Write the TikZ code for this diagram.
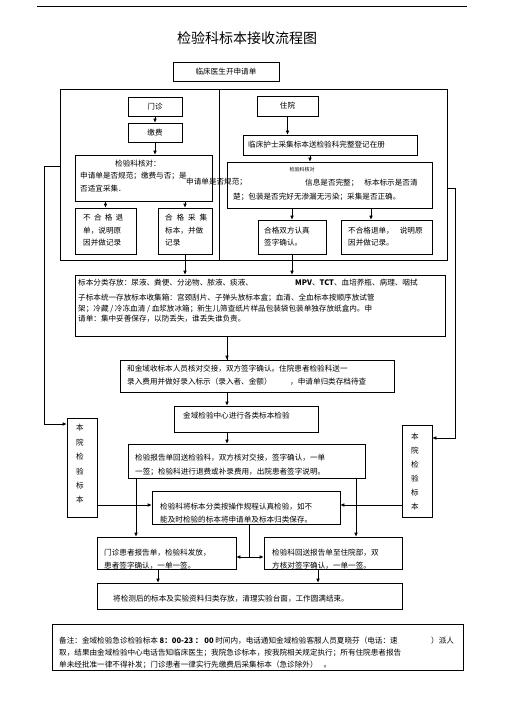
\documentclass[tikz,border=0pt]{standalone}
\usepackage{fontspec}
\setmainfont{Noto Sans CJK SC}
\usetikzlibrary{arrows.meta,fit}
\begin{document}
\begin{tikzpicture}[x=1pt,y=-1pt,
 box/.style={draw, line width=0.6pt, inner sep=0pt},
 txt/.style={anchor=west, inner sep=0pt, font=\fontsize{7.6}{9}\selectfont},
 ctr/.style={inner sep=0pt, font=\fontsize{7.6}{9}\selectfont},
 arr/.style={line width=0.6pt, -{Latex[length=4pt,width=3.5pt]}},
 ln/.style={line width=0.6pt}]
\useasboundingbox[fill=white] (0,0) rectangle (505,714);
\draw[line width=0.9pt] (37,6) -- (467,6);
\node[inner sep=0pt, font=\fontsize{14}{16}\selectfont] (title) at (247,38) {检验科标本接收流程图};
% boxes
\node[box, fit={(173,62) (279,81)}] (doc) {};
\node[ctr] (doct) at (doc.center) {临床医生开申请单};
\node[box, fit={(60,89) (447,260)}] (outer) {};
\draw[ln] (219,89) -- (219,260);
\node[box, fit={(128,97) (182,116)}] (mz) {};
\node[ctr] (mzt) at (mz.center) {门诊};
\node[box, fit={(128,123) (182,142)}] (jf) {};
\node[ctr] (jft) at (jf.center) {缴费};
\node[box, fit={(75,155) (212,201)}] (hd1) {};
\node[ctr] (hd1a) at (138,164) {检验科核对：};
\node[txt] (hd1b) at (80,175.5) {申请单是否规范；缴费与否；是};
\node[txt] (hd1c) at (80,189) {否适宜采集．};
\node[txt] (hd1d) at (186,182) {申请单是否规范；};
\node[box, fit={(75,208) (136,254)}] (np1) {};
\node[txt] (np1a) at (83,218) {\makebox[40pt][s]{不\hfill 合\hfill 格\hfill 退}};
\node[txt] (np1b) at (83,231) {单，说明原};
\node[txt] (np1c) at (83,243) {因并做记录};
\node[box, fit={(158,208) (212,254)}] (p1) {};
\node[txt] (p1a) at (165,218) {\makebox[42pt][s]{合\hfill 格\hfill 采\hfill 集}};
\node[txt] (p1b) at (165,231) {标本，并做};
\node[txt] (p1c) at (165,243) {记录};
\node[box, fit={(257,96) (318,116)}] (zy) {};
\node[ctr] (zyt) at (zy.center) {住院};
\node[box, fit={(243,135) (417,155)}] (nurse) {};
\node[txt] (nurset) at (248,145) {临床护士采集标本送检验科完整登记在册};
\node[box, fit={(227,162) (432,208)}] (hd2) {};
\node[inner sep=0pt, font=\fontsize{5}{6}\selectfont] (hd2a) at (302,170) {检验科核对};
\node[txt] (hd2b) at (305,183) {信息是否完整；\hspace{6pt}标本标示是否清};
\node[txt] (hd2c) at (233,197) {楚；包装是否完好无渗漏无污染；采集是否正确。};
\node[box, fit={(258,220) (326,254)}] (p2) {};
\node[txt] (p2a) at (264,231) {合格双方认真};
\node[txt] (p2b) at (264,243) {签字确认。};
\node[box, fit={(341,220) (432,254)}] (np2) {};
\node[txt] (np2a) at (348,231) {不合格退单，\hspace{6pt}说明原};
\node[txt] (np2b) at (348,243) {因并做记录。};
\node[box, fit={(75,275) (445,336)}] (store) {};
\node[txt] (st1) at (78,283) {标本分类存放：尿液、粪便、分泌物、脓液、痰液、};
\node[txt] (st1b) at (295,283) {\textbf{MPV}、\textbf{TCT}、血培养瓶、病理、咽拭};
\node[txt] (st2) at (78,298) {子标本统一存放标本收集箱：宫颈刮片、子弹头放标本盒；血清、全血标本按顺序放试管};
\node[txt] (st3) at (78,309) {架；冷藏 / 冷冻血清 / 血浆放冰箱；新生儿筛查纸片样品包装袋包装单独存放纸盒内。申};
\node[txt] (st4) at (78,319) {请单：集中妥善保存，以防丢失，谁丢失谁负责。};
\node[box, fit={(120,360) (394,392)}] (hand) {};
\node[txt] (hand1) at (127,369) {和金域收标本人员核对交接，双方签字确认。住院患者检验科送一};
\node[txt] (hand2) at (127,382) {录入费用并做好录入标示（录入者、金额）};
\node[txt] (hand3) at (290,382) {，申请单归类存档待查};
\node[box, fit={(174,406) (318,432)}] (jy) {};
\node[txt] (jyt) at (183,416) {金域检验中心进行各类标本检验};
\node[box, fit={(128,444) (365,478)}] (rep) {};
\node[txt] (rep1) at (135,458) {检验报告单回送检验科，双方核对交接，签字确认，一单};
\node[txt] (rep2) at (135,472) {一签；检验科进行退费或补录费用，出院患者签字说明。};
\node[box, fit={(152,491) (340,524)}] (ana) {};
\node[txt] (ana1) at (160,507) {检验科将标本分类按操作规程认真检验，如不};
\node[txt] (ana2) at (160,519.5) {能及时检验的标本将申请单及标本归类保存。};
\node[box, fit={(67,418) (97,517)}] (bL) {};
\node[ctr, align=center, font=\fontsize{7.6}{14.4}\selectfont] (bLt) at (80,464) {本\\院\\检\\验\\标\\本};
\node[box, fit={(402,425) (432,517)}] (bR) {};
\node[ctr, align=center, font=\fontsize{7.6}{14}\selectfont] (bRt) at (415,472) {本\\院\\检\\验\\标\\本};
\node[box, fit={(97,537) (236,569)}] (opd) {};
\node[txt] (opd1) at (104,553) {门诊患者报告单，检验科发放，};
\node[txt] (opd2) at (104,566) {患者签字确认，一单一签。};
\node[box, fit={(264,537) (402,569)}] (ipd) {};
\node[txt] (ipd1) at (272,553) {检验科回送报告单至住院部，双};
\node[txt] (ipd2) at (272,566) {方核对签字确认，一单一签。};
\node[box, fit={(97,583) (402,609)}] (fin) {};
\node[txt] (fint) at (113,599) {将检测后的标本及实验资料归类存放，清理实验台面，工作圆满结束。};
\node[box, fit={(52,624) (463,670)}] (note) {};
\node[txt] (n1) at (59,641) {备注：金域检验急诊检验标本 \textbf{8：00-23 ： 00} 时间内，电话通知金域检验客服人员夏晓芬（电话：速};
\node[txt] (n1b) at (431,641) {）派人};
\node[txt] (n2) at (59,653) {取，结果由金域检验中心电话告知临床医生；我院急诊标本，按我院相关规定执行；所有住院患者报告};
\node[txt] (n3) at (59,665) {单未经批准一律不得补发；门诊患者一律实行先缴费后采集标本（急诊除外）\hspace{6pt}。};
% connectors
\draw[arr] (mz) -- (jf);
\draw[arr] (jf.south) -- (jf.south |- hd1.north);
\draw[arr] (np1.north |- hd1.south) -- (np1.north);
\draw[arr] (p1.north |- hd1.south) -- (p1.north);
\draw[arr] (p1.south) -- (p1.south |- store.north);
\draw[arr] (zy) -- (zy.south |- nurse.north);
\coordinate (cx1) at (310,0);
\draw[arr] (nurse.south -| cx1) -- (hd2.north -| cx1);
\draw[arr] (p2.north |- hd2.south) -- (p2.north);
\coordinate (cx2) at (371,0);
\draw[arr] (hd2.south -| cx2) -- (np2.north -| cx2);
\draw[arr] (p2.south) -- (p2.south |- store.north);
\coordinate (cx3) at (227,0);
\draw[ln] (store.south -| cx3) -- (hand.north -| cx3);
\draw[arr] (store.south -| cx3) -- (hand.north -| cx3);
\draw[arr] (hand.south -| cx3) -- (jy.north -| cx3);
\draw[arr] (jy.south -| cx3) -- (rep.north -| cx3);
\coordinate (l1) at (44,166);
\coordinate (l2) at (44,424);
\draw[arr] (outer.west |- l1) -- (l1) -- (l2) -- (bL.west |- l2);
\coordinate (r1) at (455,188);
\coordinate (r2) at (455,438);
\draw[arr] (outer.east |- r1) -- (r1) -- (r2) -- (bR.east |- r2);
\coordinate (m1) at (0,505);
\draw[arr] (bL.east |- m1) -- (ana.west |- m1);
\draw[arr] (bR.west |- m1) -- (ana.east |- m1);
\coordinate (cx4) at (136,0);
\draw[arr] (rep.south -| cx4) -- (opd.north -| cx4);
\coordinate (cx5) at (356,0);
\draw[arr] (rep.south -| cx5) -- (ipd.north -| cx5);
\coordinate (jn) at (249,557);
\draw[ln] (ana.south -| jn) -- (jn);
\draw[arr] (jn) -- (opd.east |- jn);
\draw[arr] (jn) -- (ipd.west |- jn);
\coordinate (cx6) at (158,0);
\draw[arr] (opd.south -| cx6) -- (fin.north -| cx6);
\coordinate (cx7) at (318,0);
\draw[arr] (ipd.south -| cx7) -- (fin.north -| cx7);
\end{tikzpicture}
\end{document}
